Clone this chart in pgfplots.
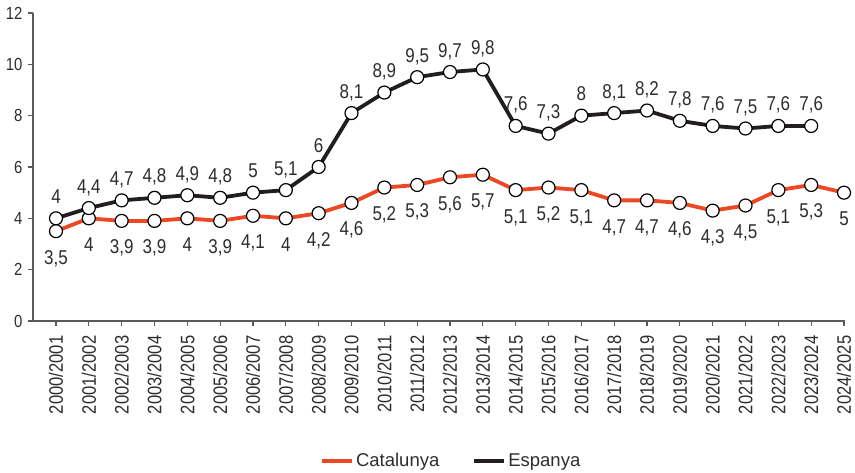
\documentclass[border=0pt]{standalone}
\usepackage{pgfplots}
\pgfplotsset{compat=1.18}
\usepackage{fontspec}
\setmainfont{Liberation Sans}
\newfontfamily\cond[FakeStretch=0.85]{Liberation Sans}
\definecolor{cat}{RGB}{236,72,36}
\definecolor{esp}{RGB}{34,30,30}
\definecolor{txt}{RGB}{45,45,45}
\definecolor{axc}{RGB}{90,90,90}
\begin{document}
\begin{tikzpicture}
\begin{axis}[
  at={(0,0)}, anchor=south west,
  scale only axis, width=812bp, height=308bp,
  xmin=-0.7, xmax=24.03, ymin=0, ymax=12,
  axis x line=bottom, axis y line=left,
  axis line style={-, axc, line width=1.2bp},
  xtick={0,...,24},
  xticklabels={2000/2001,2001/2002,2002/2003,2003/2004,2004/2005,2005/2006,2006/2007,2007/2008,2008/2009,2009/2010,2010/2011,2011/2012,2012/2013,2013/2014,2014/2015,2015/2016,2016/2017,2017/2018,2018/2019,2019/2020,2020/2021,2021/2022,2022/2023,2023/2024,2024/2025},
  ytick={0,2,...,12},
  tick align=outside, major tick length=4.5bp,
  tick style={axc, line width=1.2bp},
  /pgf/number format/assume math mode=true,
  x tick label style={rotate=90, anchor=east, font=\cond\fontsize{19.5bp}{22bp}\selectfont, text=txt, inner xsep=10bp, inner ysep=0bp},
  y tick label style={font=\cond\fontsize{17.5bp}{22bp}\selectfont, text=txt, inner xsep=6bp, inner ysep=0bp},
  legend style={at={(0.515,-0.4545)}, anchor=center, draw=none, fill=none,
    font=\fontsize{18.5bp}{22bp}\selectfont, text=txt,
    /tikz/every even column/.append style={column sep=31bp}},
  legend columns=2,
  legend image code/.code={\draw[#1, line width=4bp] (0bp,0bp) -- (30bp,0bp);},
  clip=false,
]
\addplot[cat, line width=3.8bp,
  mark=*, mark size=6.5bp, mark options={fill=white, draw=black, line width=1.2bp},
  nodes near coords={\pgfmathprintnumber[use comma]{\pgfplotspointmeta}},
  every node near coord/.append style={anchor=base, yshift=-33bp, text=txt, inner sep=0pt, font=\cond\fontsize{20bp}{24bp}\selectfont}]
coordinates {(0,3.5)(1,4)(2,3.9)(3,3.9)(4,4)(5,3.9)(6,4.1)(7,4)(8,4.2)(9,4.6)(10,5.2)(11,5.3)(12,5.6)(13,5.7)(14,5.1)(15,5.2)(16,5.1)(17,4.7)(18,4.7)(19,4.6)(20,4.3)(21,4.5)(22,5.1)(23,5.3)(24,5)};
\addlegendentry{Catalunya}
\addplot[esp, line width=3.8bp,
  mark=*, mark size=6.5bp, mark options={fill=white, draw=black, line width=1.2bp},
  nodes near coords={\pgfmathprintnumber[use comma]{\pgfplotspointmeta}},
  every node near coord/.append style={anchor=base, yshift=15bp, text=txt, inner sep=0pt, font=\cond\fontsize{20bp}{24bp}\selectfont}]
coordinates {(0,4)(1,4.4)(2,4.7)(3,4.8)(4,4.9)(5,4.8)(6,5)(7,5.1)(8,6)(9,8.1)(10,8.9)(11,9.5)(12,9.7)(13,9.8)(14,7.6)(15,7.3)(16,8)(17,8.1)(18,8.2)(19,7.8)(20,7.6)(21,7.5)(22,7.6)(23,7.6)};
\addlegendentry{Espanya}
\end{axis}
\pgfresetboundingbox
\path[use as bounding box] (-33bp,-152bp) rectangle (822bp,321bp);
\end{tikzpicture}
\end{document}
